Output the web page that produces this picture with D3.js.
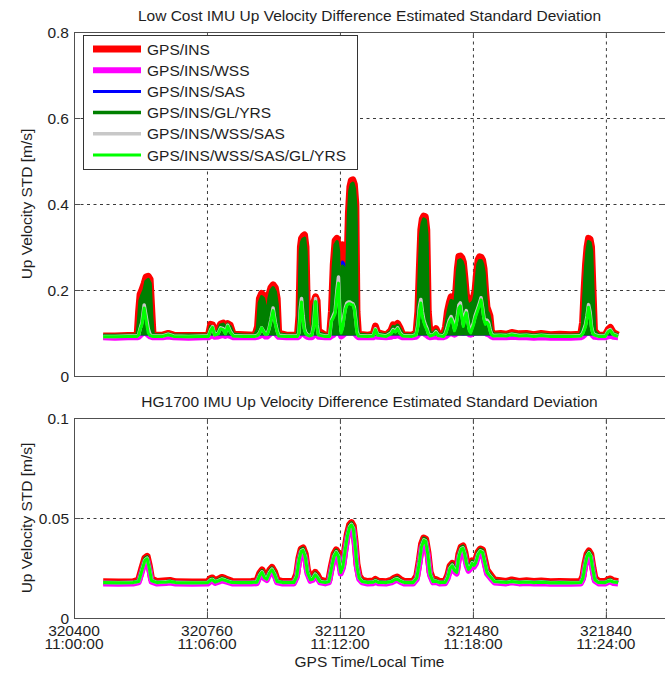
<!DOCTYPE html>
<html>
<head>
<meta charset="utf-8">
<script src="https://cdn.jsdelivr.net/npm/d3@7"></script>
<style>
  body { margin: 0; background: #fff; }
  svg { display: block; }
  text { font-family: "Liberation Sans", Arial, Helvetica, sans-serif; fill: #1e1e1e; }
</style>
</head>
<body>
<svg id="chart" width="665" height="673"></svg>
<script>
// ---- Series names (legend order = drawing order) ----
const seriesNames = ["GPS/INS", "GPS/INS/WSS", "GPS/INS/SAS", "GPS/INS/GL/YRS", "GPS/INS/WSS/SAS", "GPS/INS/WSS/SAS/GL/YRS"];

// ---- X axis ticks: GPS seconds of week and local clock time ----
const xTickValues = [320400, 320760, 321120, 321480, 321840];
const xTickGps = ["320400", "320760", "321120", "321480", "321840"];
const xTickLocal = ["11:00:00", "11:06:00", "11:12:00", "11:18:00", "11:24:00"];

// ---- Y axis ticks ----
const lowCostYTicks = [0, 0.2, 0.4, 0.6, 0.8];
const lowCostYLabels = ["0", "0.2", "0.4", "0.6", "0.8"];
const hgYTicks = [0, 0.05, 0.1];
const hgYLabels = ["0", "0.05", "0.1"];

// ---- Low cost IMU: sample times (GPS s) and up velocity STD (m/s) ----
const lowCostTime = [
  320479,320511,320546,320571,320575,320579,320584,320590,320595,320601,
  320606,320610,320614,320640,320655,320670,320710,320750,320764,320770,
  320775,320781,320790,320797,320804,320810,320816,320823,320831,320860,
  320890,320897,320902,320908,320913,320918,320923,320928,320933,320939,
  320945,320950,320954,320975,321005,321009,321013,321016,321020,321024,
  321028,321032,321037,321044,321049,321054,321058,321062,321080,321092,
  321097,321102,321107,321112,321116,321120,321123,321127,321131,321135,
  321139,321143,321147,321151,321155,321159,321163,321166,321170,321195,
  321210,321216,321222,321245,321258,321264,321270,321276,321283,321290,
  321315,321326,321331,321335,321339,321343,321347,321351,321355,321359,
  321364,321374,321380,321386,321400,321406,321411,321416,321421,321426,
  321430,321434,321438,321442,321446,321450,321454,321458,321462,321466,
  321470,321474,321478,321482,321486,321490,321494,321498,321502,321506,
  321510,321514,321518,321522,321526,321530,321535,321555,321570,321585,
  321605,321625,321645,321665,321690,321715,321745,321772,321777,321781,
  321785,321789,321793,321797,321801,321805,321809,321820,321838,321846,
  321852,321860,321873
];
const lowCostINS = [
  .093,.093,.094,.095,.150,.190,.200,.215,.230,.232,
  .225,.160,.095,.095,.099,.095,.094,.094,.095,.120,
  .119,.100,.108,.121,.123,.117,.122,.118,.097,.096,
  .095,.115,.180,.192,.188,.170,.140,.190,.205,.212,
  .205,.180,.100,.095,.095,.140,.300,.320,.325,.328,
  .300,.140,.097,.105,.170,.184,.175,.105,.095,.095,
  .150,.260,.315,.320,.300,.150,.105,.305,.300,.150,
  .250,.380,.440,.455,.456,.445,.400,.150,.097,.095,
  .097,.116,.101,.095,.106,.119,.115,.122,.111,.096,
  .095,.100,.150,.250,.340,.365,.372,.370,.340,.150,
  .097,.102,.110,.099,.095,.115,.150,.170,.184,.182,
  .170,.200,.250,.278,.279,.275,.265,.230,.190,.176,
  .174,.178,.180,.185,.200,.240,.270,.277,.276,.270,
  .250,.200,.160,.150,.140,.105,.097,.099,.097,.101,
  .098,.099,.096,.099,.096,.097,.096,.097,.125,.200,
  .260,.300,.320,.318,.300,.200,.105,.095,.095,.108,
  .113,.101,.095
];
const lowCostWSS = [
  .090,.089,.090,.090,.091,.094,.098,.106,.100,.095,
  .092,.091,.090,.090,.092,.090,.089,.090,.090,.093,
  .095,.091,.092,.094,.095,.093,.096,.093,.090,.090,
  .090,.091,.093,.097,.095,.092,.092,.095,.100,.108,
  .100,.094,.091,.090,.090,.092,.098,.106,.100,.096,
  .093,.091,.090,.090,.094,.106,.096,.091,.090,.090,
  .093,.095,.100,.110,.115,.098,.092,.094,.097,.100,
  .103,.104,.104,.103,.102,.100,.096,.093,.090,.090,
  .090,.094,.091,.090,.091,.094,.093,.095,.092,.090,
  .090,.091,.095,.100,.108,.104,.100,.097,.095,.092,
  .090,.091,.092,.090,.090,.092,.095,.098,.100,.098,
  .096,.098,.102,.106,.108,.104,.100,.102,.104,.100,
  .097,.096,.098,.100,.102,.105,.108,.110,.112,.108,
  .104,.100,.098,.097,.095,.092,.090,.090,.090,.091,
  .090,.090,.089,.090,.089,.089,.089,.090,.092,.095,
  .098,.102,.108,.104,.098,.094,.091,.090,.090,.092,
  .094,.091,.090
];
const lowCostSAS = [
  .093,.093,.094,.094,.120,.160,.170,.180,.195,.200,
  .190,.130,.095,.094,.097,.094,.094,.094,.094,.108,
  .108,.097,.100,.110,.112,.105,.112,.108,.095,.094,
  .094,.105,.150,.165,.160,.145,.125,.160,.175,.180,
  .170,.150,.097,.094,.094,.120,.270,.290,.300,.300,
  .270,.120,.095,.100,.150,.165,.150,.098,.094,.094,
  .125,.230,.280,.290,.260,.130,.100,.265,.260,.130,
  .220,.340,.400,.420,.425,.410,.360,.130,.095,.094,
  .095,.105,.097,.094,.100,.108,.106,.110,.103,.095,
  .094,.097,.130,.220,.310,.330,.340,.335,.310,.130,
  .095,.098,.102,.096,.094,.105,.130,.150,.160,.160,
  .150,.180,.230,.250,.255,.250,.240,.210,.170,.155,
  .150,.155,.160,.165,.180,.210,.240,.250,.250,.245,
  .230,.180,.140,.135,.125,.100,.095,.095,.094,.096,
  .095,.095,.094,.095,.094,.094,.094,.095,.115,.180,
  .240,.270,.290,.290,.260,.180,.100,.094,.094,.100,
  .103,.097,.094
];
const lowCostGLYRS = [
  .094,.094,.095,.095,.130,.175,.188,.200,.220,.224,
  .215,.140,.096,.095,.098,.095,.095,.095,.095,.115,
  .114,.099,.104,.118,.120,.112,.120,.114,.097,.095,
  .095,.110,.170,.184,.180,.160,.130,.180,.198,.205,
  .195,.165,.098,.095,.095,.130,.290,.310,.318,.320,
  .290,.130,.097,.104,.162,.178,.165,.100,.095,.095,
  .135,.250,.305,.312,.290,.140,.104,.255,.250,.140,
  .240,.370,.430,.445,.448,.435,.390,.140,.097,.095,
  .096,.110,.099,.095,.104,.115,.112,.118,.108,.096,
  .095,.099,.140,.240,.330,.355,.365,.362,.330,.140,
  .097,.100,.106,.098,.095,.110,.140,.160,.175,.172,
  .160,.190,.240,.268,.270,.266,.255,.220,.180,.165,
  .162,.168,.170,.175,.190,.230,.260,.268,.268,.260,
  .240,.190,.150,.145,.130,.104,.097,.097,.096,.098,
  .096,.097,.095,.097,.095,.095,.095,.096,.120,.190,
  .250,.290,.312,.310,.290,.190,.104,.095,.095,.104,
  .108,.099,.095
];
const lowCostWSSSAS = [
  .092,.092,.093,.093,.096,.110,.125,.165,.140,.110,
  .096,.094,.093,.093,.097,.093,.092,.093,.093,.108,
  .115,.096,.099,.112,.110,.100,.118,.104,.094,.093,
  .093,.095,.100,.112,.105,.098,.098,.110,.130,.158,
  .125,.105,.095,.093,.093,.100,.160,.180,.140,.110,
  .100,.096,.094,.096,.120,.180,.120,.096,.093,.093,
  .130,.140,.150,.200,.230,.140,.105,.115,.140,.160,
  .170,.172,.172,.170,.168,.160,.130,.105,.094,.093,
  .094,.110,.096,.093,.100,.108,.104,.112,.100,.094,
  .093,.096,.120,.160,.178,.150,.130,.120,.112,.100,
  .094,.097,.103,.095,.093,.100,.115,.130,.138,.128,
  .110,.120,.140,.165,.170,.145,.120,.140,.152,.130,
  .110,.105,.115,.125,.140,.150,.160,.170,.182,.160,
  .135,.125,.130,.125,.110,.098,.094,.095,.094,.097,
  .094,.095,.093,.095,.093,.093,.093,.094,.100,.110,
  .120,.140,.166,.150,.115,.100,.096,.093,.093,.105,
  .108,.097,.093
];
const lowCostAll = [
  .091,.091,.092,.092,.095,.108,.120,.158,.130,.100,
  .094,.093,.092,.092,.096,.092,.091,.092,.092,.106,
  .113,.095,.098,.110,.108,.098,.116,.102,.093,.092,
  .092,.094,.099,.112,.104,.097,.097,.108,.128,.152,
  .120,.103,.093,.092,.092,.099,.150,.172,.130,.105,
  .098,.095,.093,.095,.115,.173,.112,.095,.092,.092,
  .128,.135,.145,.190,.216,.130,.100,.110,.135,.155,
  .165,.168,.168,.166,.165,.155,.125,.100,.093,.092,
  .093,.108,.095,.092,.098,.106,.102,.110,.098,.093,
  .092,.095,.115,.150,.170,.140,.125,.115,.108,.098,
  .093,.096,.101,.094,.092,.098,.110,.125,.133,.122,
  .105,.115,.135,.158,.163,.138,.115,.135,.147,.125,
  .105,.100,.110,.120,.135,.145,.155,.165,.177,.155,
  .130,.120,.125,.120,.105,.096,.093,.094,.093,.096,
  .093,.094,.092,.094,.092,.092,.092,.093,.098,.105,
  .115,.135,.160,.140,.110,.098,.095,.092,.092,.103,
  .106,.096,.092
];

// ---- HG1700 IMU: sample times (GPS s) and up velocity STD (m/s) ----
const hgTime = [
  320479,320520,320560,320575,320584,320592,320598,320604,320610,320625,
  320650,320660,320675,320720,320762,320770,320775,320782,320792,320800,
  320808,320815,320828,320850,320880,320895,320903,320909,320915,320922,
  320930,320936,320943,320950,320965,320995,321003,321009,321015,321020,
  321026,321032,321040,321046,321053,321059,321066,321080,321090,321097,
  321104,321110,321116,321122,321128,321134,321140,321146,321151,321156,
  321161,321166,321172,321180,321195,321210,321216,321224,321245,321260,
  321268,321275,321284,321295,321318,321328,321335,321341,321347,321352,
  321358,321364,321372,321380,321390,321405,321412,321418,321424,321430,
  321436,321442,321448,321453,321458,321463,321468,321473,321478,321483,
  321488,321494,321500,321506,321512,321518,321524,321530,321538,321555,
  321570,321585,321605,321625,321645,321665,321690,321715,321745,321772,
  321778,321783,321789,321794,321799,321805,321810,321820,321838,321846,
  321852,321860,321873
];
const hgINS = [
  .0181,.0180,.0181,.0190,.0250,.0300,.0308,.0260,.0195,.0182,
  .0186,.0188,.0181,.0180,.0181,.0198,.0200,.0186,.0195,.0203,
  .0198,.0192,.0183,.0181,.0182,.0185,.0225,.0240,.0215,.0205,
  .0240,.0253,.0230,.0190,.0182,.0183,.0220,.0300,.0345,.0350,
  .0320,.0240,.0200,.0205,.0228,.0215,.0190,.0183,.0190,.0260,
  .0320,.0340,.0320,.0245,.0270,.0350,.0420,.0465,.0477,.0460,
  .0380,.0270,.0210,.0190,.0182,.0185,.0193,.0184,.0181,.0190,
  .0200,.0205,.0192,.0182,.0182,.0210,.0290,.0370,.0400,.0395,
  .0330,.0230,.0190,.0192,.0182,.0184,.0215,.0260,.0273,.0250,
  .0240,.0320,.0355,.0360,.0330,.0280,.0255,.0265,.0285,.0275,
  .0290,.0330,.0345,.0340,.0290,.0240,.0225,.0210,.0190,.0186,
  .0183,.0190,.0183,.0186,.0182,.0185,.0181,.0182,.0181,.0183,
  .0210,.0270,.0320,.0335,.0320,.0250,.0200,.0183,.0182,.0192,
  .0195,.0186,.0181
];
const hgWSS = [
  .0172,.0171,.0172,.0178,.0232,.0281,.0289,.0242,.0182,.0172,
  .0175,.0177,.0172,.0171,.0172,.0184,.0186,.0175,.0182,.0188,
  .0184,.0180,.0173,.0172,.0172,.0174,.0208,.0222,.0199,.0190,
  .0222,.0234,.0212,.0178,.0172,.0173,.0204,.0281,.0326,.0331,
  .0301,.0222,.0186,.0190,.0210,.0199,.0178,.0173,.0178,.0242,
  .0301,.0321,.0301,.0222,.0250,.0331,.0401,.0446,.0458,.0441,
  .0361,.0252,.0195,.0178,.0172,.0174,.0180,.0174,.0172,.0178,
  .0186,.0190,.0180,.0172,.0172,.0195,.0271,.0351,.0381,.0376,
  .0311,.0213,.0178,.0180,.0172,.0174,.0199,.0242,.0254,.0232,
  .0222,.0301,.0336,.0341,.0311,.0261,.0236,.0246,.0266,.0256,
  .0271,.0311,.0326,.0321,.0271,.0222,.0208,.0195,.0178,.0175,
  .0173,.0178,.0173,.0175,.0172,.0174,.0171,.0172,.0171,.0173,
  .0195,.0252,.0301,.0316,.0301,.0232,.0186,.0173,.0172,.0180,
  .0182,.0175,.0172
];
const hgSAS = [
  .0177,.0176,.0177,.0184,.0245,.0295,.0303,.0255,.0189,.0177,
  .0181,.0183,.0177,.0176,.0177,.0192,.0194,.0181,.0189,.0197,
  .0192,.0186,.0178,.0177,.0177,.0180,.0219,.0234,.0209,.0199,
  .0234,.0247,.0224,.0184,.0177,.0178,.0214,.0295,.0340,.0345,
  .0315,.0234,.0194,.0199,.0222,.0209,.0184,.0178,.0184,.0255,
  .0315,.0335,.0315,.0238,.0264,.0345,.0415,.0460,.0472,.0455,
  .0375,.0264,.0204,.0184,.0177,.0180,.0187,.0179,.0177,.0184,
  .0194,.0199,.0186,.0177,.0177,.0204,.0285,.0365,.0395,.0390,
  .0325,.0224,.0184,.0186,.0177,.0179,.0209,.0255,.0268,.0245,
  .0234,.0315,.0350,.0355,.0325,.0274,.0249,.0259,.0280,.0269,
  .0285,.0325,.0340,.0335,.0285,.0234,.0219,.0204,.0184,.0181,
  .0178,.0184,.0178,.0181,.0177,.0180,.0176,.0177,.0176,.0178,
  .0204,.0264,.0315,.0330,.0315,.0245,.0194,.0178,.0177,.0186,
  .0189,.0181,.0177
];
const hgGLYRS = [
  .0178,.0177,.0178,.0186,.0248,.0298,.0306,.0258,.0191,.0178,
  .0182,.0185,.0178,.0177,.0178,.0195,.0197,.0183,.0192,.0200,
  .0195,.0189,.0179,.0178,.0178,.0182,.0222,.0237,.0212,.0202,
  .0237,.0250,.0227,.0187,.0178,.0179,.0218,.0298,.0343,.0348,
  .0318,.0237,.0197,.0202,.0225,.0212,.0187,.0179,.0187,.0258,
  .0318,.0338,.0318,.0242,.0268,.0348,.0418,.0463,.0475,.0458,
  .0378,.0268,.0207,.0187,.0178,.0182,.0190,.0181,.0178,.0187,
  .0197,.0202,.0189,.0178,.0178,.0207,.0288,.0368,.0398,.0393,
  .0328,.0227,.0187,.0189,.0178,.0181,.0212,.0258,.0271,.0248,
  .0237,.0318,.0353,.0358,.0328,.0278,.0253,.0263,.0283,.0273,
  .0288,.0328,.0343,.0338,.0288,.0237,.0222,.0207,.0187,.0183,
  .0179,.0187,.0179,.0183,.0178,.0182,.0177,.0178,.0177,.0179,
  .0207,.0268,.0318,.0333,.0318,.0248,.0197,.0179,.0178,.0189,
  .0192,.0183,.0178
];
const hgWSSSAS = [
  .0177,.0176,.0177,.0183,.0241,.0291,.0299,.0251,.0188,.0177,
  .0181,.0183,.0177,.0176,.0177,.0191,.0193,.0181,.0188,.0195,
  .0191,.0185,.0178,.0177,.0177,.0180,.0216,.0231,.0206,.0196,
  .0231,.0244,.0221,.0183,.0177,.0178,.0211,.0291,.0336,.0341,
  .0311,.0231,.0193,.0196,.0219,.0206,.0183,.0178,.0183,.0251,
  .0311,.0331,.0311,.0232,.0260,.0341,.0411,.0456,.0468,.0451,
  .0371,.0261,.0202,.0183,.0177,.0180,.0186,.0179,.0177,.0183,
  .0193,.0196,.0185,.0177,.0177,.0202,.0281,.0361,.0391,.0386,
  .0321,.0221,.0183,.0185,.0177,.0179,.0206,.0251,.0264,.0241,
  .0231,.0311,.0346,.0351,.0321,.0271,.0246,.0256,.0276,.0266,
  .0281,.0321,.0336,.0331,.0281,.0231,.0216,.0202,.0183,.0181,
  .0178,.0183,.0178,.0181,.0177,.0180,.0176,.0177,.0176,.0178,
  .0202,.0261,.0311,.0326,.0311,.0241,.0193,.0178,.0177,.0185,
  .0188,.0181,.0177
];
const hgAll = [
  .0177,.0176,.0177,.0182,.0238,.0288,.0296,.0248,.0186,.0177,
  .0180,.0182,.0177,.0176,.0177,.0189,.0191,.0180,.0186,.0193,
  .0189,.0184,.0177,.0177,.0177,.0179,.0213,.0228,.0203,.0194,
  .0228,.0241,.0218,.0182,.0177,.0177,.0208,.0288,.0333,.0338,
  .0308,.0228,.0191,.0194,.0216,.0203,.0182,.0177,.0182,.0248,
  .0308,.0328,.0308,.0228,.0257,.0338,.0408,.0453,.0465,.0448,
  .0368,.0258,.0200,.0182,.0177,.0179,.0185,.0178,.0177,.0182,
  .0191,.0194,.0184,.0177,.0177,.0200,.0278,.0358,.0388,.0383,
  .0318,.0218,.0182,.0184,.0177,.0178,.0203,.0248,.0261,.0238,
  .0228,.0308,.0343,.0348,.0318,.0268,.0243,.0253,.0273,.0263,
  .0278,.0318,.0333,.0328,.0278,.0228,.0213,.0200,.0182,.0180,
  .0177,.0182,.0177,.0180,.0177,.0179,.0176,.0177,.0176,.0177,
  .0200,.0258,.0308,.0323,.0308,.0238,.0191,.0177,.0177,.0184,
  .0186,.0180,.0177
];

// ---- Drawing ----
const seriesStyle = [
  { color: "#ff0000", width: 7 },
  { color: "#ff00ff", width: 6 },
  { color: "#0000ff", width: 3 },
  { color: "#008000", width: 3.5 },
  { color: "#c8c8c8", width: 3.5 },
  { color: "#00ff00", width: 3 }
];

const svg = d3.select("#chart");
const plotLeft = 74, plotRight = 665;
const x = d3.scaleLinear().domain([320400, 322000]).range([plotLeft, plotRight]);

const panels = [
  {
    id: "lowcost",
    title: "Low Cost IMU Up Velocity Difference Estimated Standard Deviation",
    titleY: 21, top: 32, bottom: 376,
    yDomain: [0, 0.8], yTicks: lowCostYTicks, yLabels: lowCostYLabels,
    time: lowCostTime,
    series: [lowCostINS, lowCostWSS, lowCostSAS, lowCostGLYRS, lowCostWSSSAS, lowCostAll],
    // dense oscillation of the single-aiding solutions reads as a solid band above the floor level
    bandFloor: 0.094, banded: [true, false, true, true, false, false],
    xLabels: false, legend: true
  },
  {
    id: "hg",
    title: "HG1700 IMU Up Velocity Difference Estimated Standard Deviation",
    titleY: 407, top: 418, bottom: 618,
    yDomain: [0, 0.1], yTicks: hgYTicks, yLabels: hgYLabels,
    time: hgTime,
    series: [hgINS, hgWSS, hgSAS, hgGLYRS, hgWSSSAS, hgAll],
    bandFloor: null, banded: [false, false, false, false, false, false],
    xLabels: true, legend: false
  }
];

const textStyle = sel => sel.style("font-size", "15.5px");

panels.forEach(p => {
  p.series.forEach((s, k) => {
    if (s.length !== p.time.length) throw new Error(p.id + " series " + k + " length " + s.length + " vs " + p.time.length);
  });

  const y = d3.scaleLinear().domain(p.yDomain).range([p.bottom, p.top]);
  const g = svg.append("g");
  const h = p.bottom - p.top;

  // clip to the axes box
  svg.append("clipPath").attr("id", "clip-" + p.id)
    .append("rect").attr("x", plotLeft).attr("y", p.top)
    .attr("width", plotRight - plotLeft).attr("height", h);

  // dotted grid
  const grid = g.append("g").attr("class", "grid");
  grid.append("g").attr("transform", `translate(0,${p.bottom})`)
    .call(d3.axisBottom(x).tickValues(xTickValues).tickSize(-h).tickFormat(""))
    .call(a => a.select(".domain").remove());
  grid.append("g").attr("transform", `translate(${plotLeft},0)`)
    .call(d3.axisLeft(y).tickValues(p.yTicks).tickSize(-(plotRight - plotLeft)).tickFormat(""))
    .call(a => a.select(".domain").remove());
  grid.selectAll("line").attr("stroke", "#3a3a3a").attr("stroke-dasharray", "3,3.5");

  // series
  const data = g.append("g").attr("clip-path", `url(#clip-${p.id})`);
  p.series.forEach((vals, k) => {
    const st = seriesStyle[k];
    const idx = d3.range(p.time.length);
    if (p.banded[k]) {
      const area = d3.area()
        .x(i => x(p.time[i]))
        .y0(i => y(Math.min(vals[i], p.bandFloor)))
        .y1(i => y(vals[i]));
      data.append("path").datum(idx).attr("d", area).attr("fill", st.color);
    }
    const line = d3.line().x(i => x(p.time[i])).y(i => y(vals[i]));
    data.append("path").datum(idx).attr("d", line)
      .attr("fill", "none").attr("stroke", st.color)
      .attr("stroke-width", st.width).attr("stroke-linejoin", "round");
  });

  // axes box and inward ticks
  const axisColor = "#505050";
  g.append("rect").attr("x", plotLeft + 0.5).attr("y", p.top + 0.5)
    .attr("width", plotRight - plotLeft).attr("height", h)
    .attr("fill", "none").attr("stroke", axisColor);

  const ticks = g.append("g").attr("class", "ticks");
  ticks.append("g").attr("transform", `translate(0,${p.bottom})`)
    .call(d3.axisBottom(x).tickValues(xTickValues).tickSize(-6).tickFormat(""));
  ticks.append("g").attr("transform", `translate(0,${p.top})`)
    .call(d3.axisTop(x).tickValues(xTickValues).tickSize(-6).tickFormat(""));
  ticks.append("g").attr("transform", `translate(${plotRight},0)`)
    .call(d3.axisRight(y).tickValues(p.yTicks).tickSize(-6).tickFormat(""));
  const yAxis = ticks.append("g").attr("transform", `translate(${plotLeft},0)`)
    .call(d3.axisLeft(y).tickValues(p.yTicks).tickSize(-6).tickPadding(5)
      .tickFormat((d, i) => p.yLabels[i]));
  ticks.selectAll(".domain").remove();
  ticks.selectAll("line").attr("stroke", axisColor);
  yAxis.selectAll("text").attr("fill", "#1e1e1e").attr("font-family", null)
    .call(textStyle).attr("dy", "0.36em");

  // x tick labels: GPS seconds over local time
  if (p.xLabels) {
    const lab = g.append("g");
    xTickValues.forEach((v, i) => {
      const t = lab.append("text").attr("text-anchor", "middle").call(textStyle);
      t.append("tspan").attr("x", x(v)).attr("y", p.bottom + 18).text(xTickGps[i]);
      t.append("tspan").attr("x", x(v)).attr("y", p.bottom + 31).text(xTickLocal[i]);
    });
    g.append("text").attr("x", (plotLeft + plotRight) / 2).attr("y", p.bottom + 49)
      .attr("text-anchor", "middle").call(textStyle).text("GPS Time/Local Time");
  }

  // title and y label
  g.append("text").attr("x", (plotLeft + plotRight) / 2).attr("y", p.titleY)
    .attr("text-anchor", "middle").call(textStyle).text(p.title);
  g.append("text")
    .attr("transform", `translate(32,${(p.top + p.bottom) / 2}) rotate(-90)`)
    .attr("text-anchor", "middle").call(textStyle).text("Up Velocity STD [m/s]");

  // legend
  if (p.legend) {
    const lg = g.append("g");
    const bx = 83, by = 35, bw = 274, bh = 134;
    lg.append("rect").attr("x", bx + 0.5).attr("y", by + 0.5).attr("width", bw).attr("height", bh)
      .attr("fill", "#fff").attr("stroke", "#333");
    seriesNames.forEach((name, k) => {
      const cy = by + 14 + k * 21.2;
      lg.append("line").attr("x1", 93).attr("x2", 141).attr("y1", cy).attr("y2", cy)
        .attr("stroke", seriesStyle[k].color).attr("stroke-width", seriesStyle[k].width);
      lg.append("text").attr("x", 147).attr("y", cy).attr("dy", "0.36em")
        .call(textStyle).text(name);
    });
  }
});
</script>
</body>
</html>
